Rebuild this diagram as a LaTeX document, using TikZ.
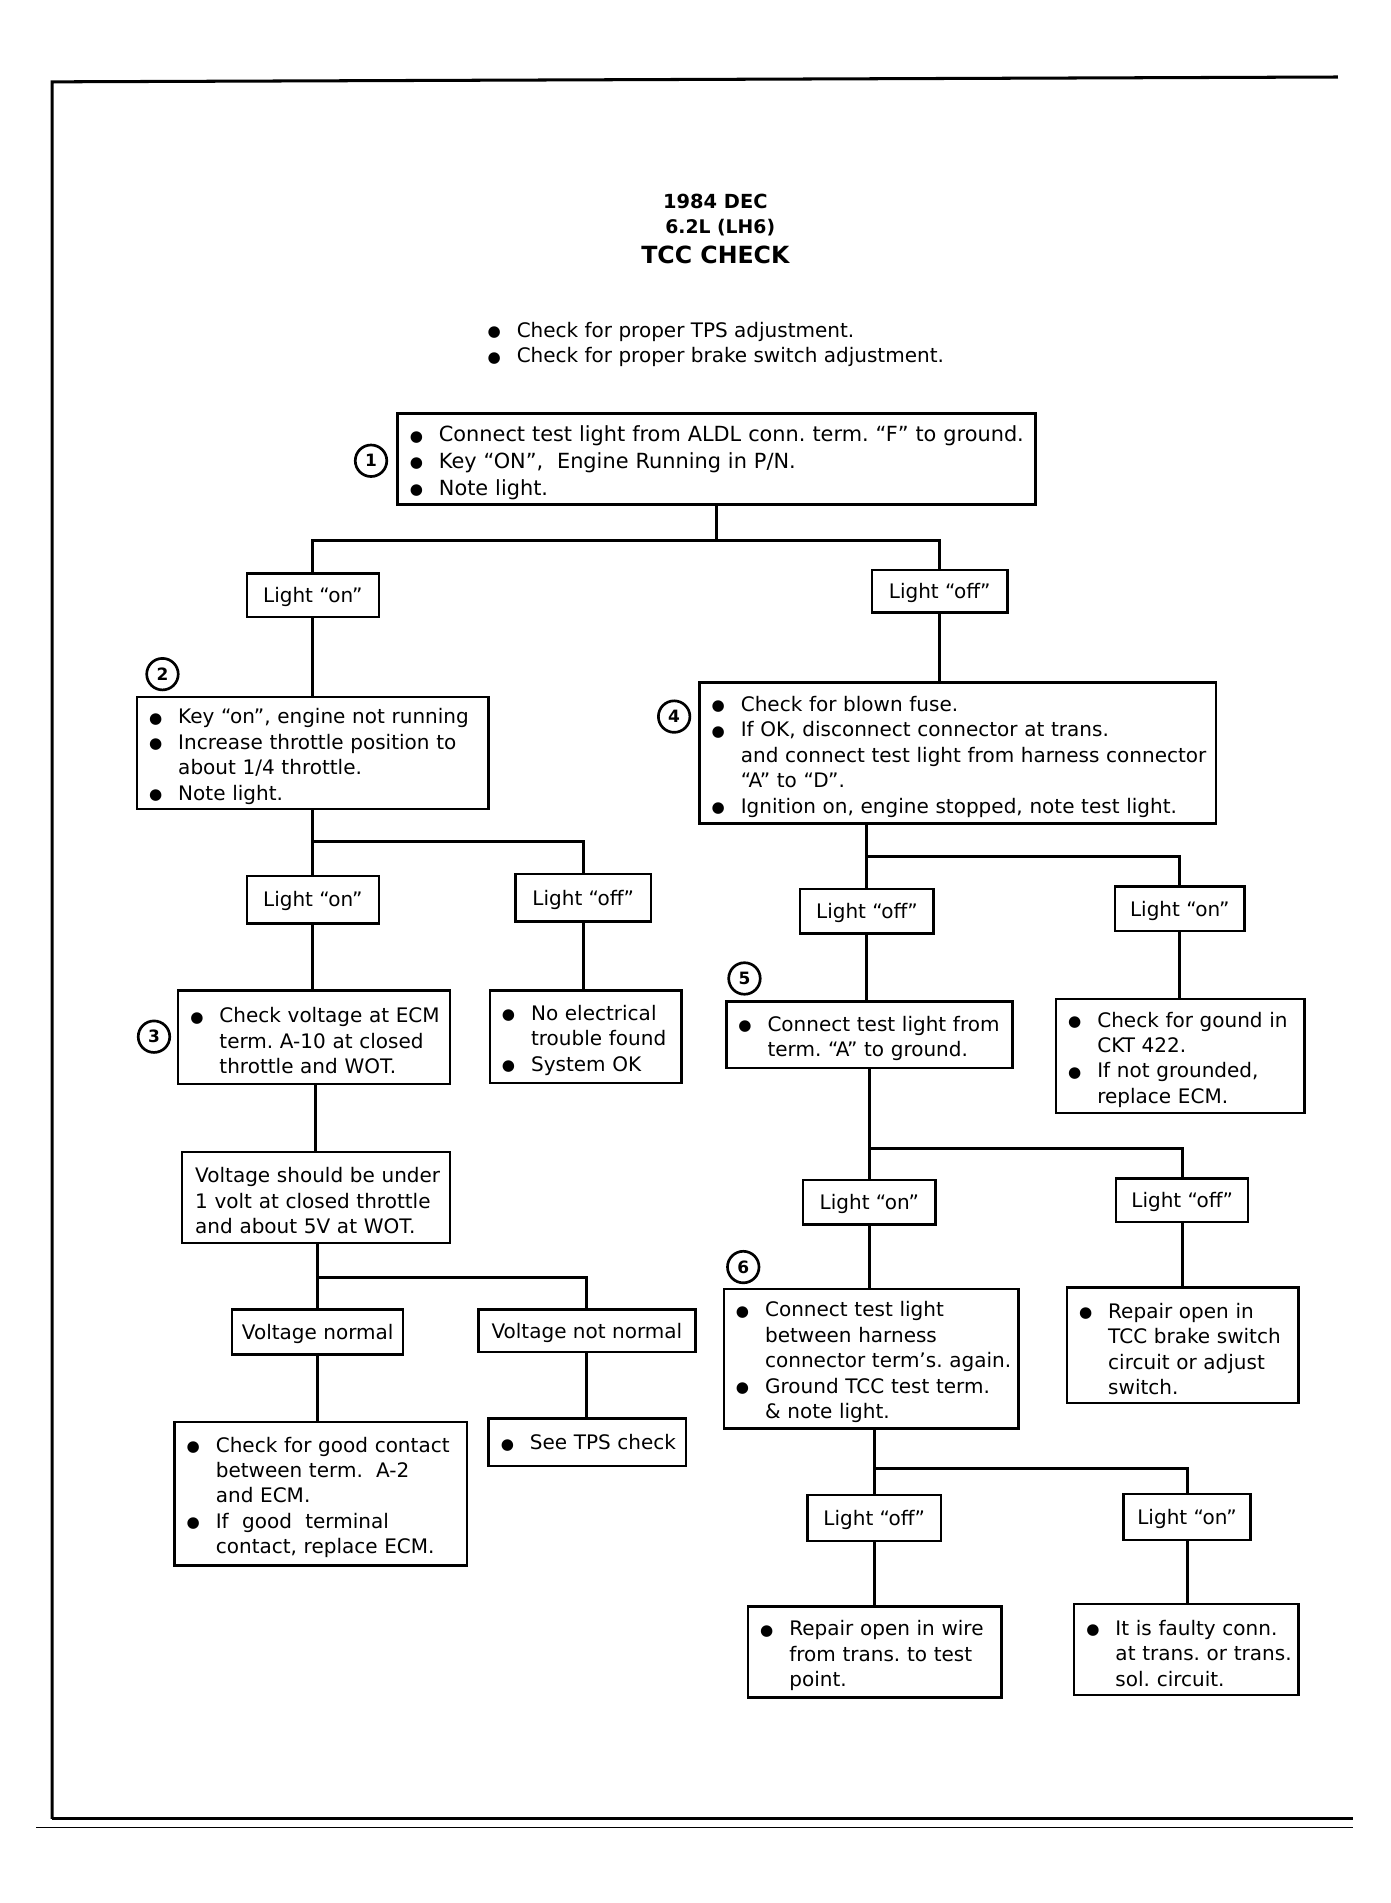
\documentclass[tikz,border=0pt]{standalone}
\usepackage{fontspec}
\setmainfont{DejaVu Sans}
\frenchspacing
\newcommand{\fsz}{\fontsize{16.5}{21}\selectfont}
\newcommand{\fszL}{\fontsize{17.2}{22}\selectfont}
\newcommand{\bulletglyph}{\raisebox{0.5pt}{\fontsize{12.5}{12.5}\selectfont ●}}
\newcommand{\bi}[1]{\makebox[24pt][l]{\bulletglyph}\mbox{#1}}
\newcommand{\ct}[1]{\hspace*{24pt}\mbox{#1}}
\newcommand{\pl}[1]{\mbox{#1}}
\tikzset{
  frameline/.style={line width=2.5pt},
  box/.style={draw, line width=2pt, inner xsep=10pt, inner ysep=0pt, align=left, font=\fsz,
    execute at end node={\par\kern-6pt}},
  lbox/.style={draw, line width=2pt, inner sep=0pt, align=center, font=\fsz,
    text height=15pt, text depth=3pt},
  num/.style={draw, circle, line width=2.2pt, minimum size=26pt, inner sep=0pt, font=\bfseries\fontsize{14}{14}\selectfont},
  conn/.style={line width=2.5pt},
}
\begin{document}
\begin{tikzpicture}[x=1pt,y=-1pt]
\useasboundingbox (0,0) rectangle (1147.2,1569.5);
\fill[white] (0,0) rectangle (1147.2,1569.5);
% frame
\draw[frameline] (43,1500) -- (43,67.5) -- (1103.5,63.5);
\draw[frameline] (43,1500) -- (1116,1500);
\draw[line width=1.2pt] (30,1507) -- (1116,1507);
% titles
\node[font=\bfseries\fontsize{16}{16}\selectfont] (t1) at (590,166) {1984 DEC};
\node[font=\bfseries\fontsize{15.5}{15.5}\selectfont] (t2) at (594,188) {6.2L (LH6)};
\node[font=\bfseries\fontsize{19.5}{19.5}\selectfont] (t3) at (590,210) {TCC CHECK};
\node[anchor=west, inner sep=0pt, align=left, font=\fsz] (pre) at (402,284)
  {\bi{Check for proper TPS adjustment.}\\ \bi{Check for proper brake switch adjustment.}};
% boxes
\node[box, font=\fszL, text width=506pt, minimum height=75pt] (box1) at (591,378.5)
  {\bi{Connect test light from ALDL conn. term. “F” to ground.}\\ \bi{Key “ON”,\ \ Engine Running in P/N.}\\ \bi{Note light.}};
\node[lbox, minimum width=109pt, minimum height=36pt] (L1on) at (258,491) {Light “on”};
\node[lbox, minimum width=112pt, minimum height=35pt] (L1off) at (775,487.5) {Light “off”};
\node[box, text width=270pt, minimum height=92pt] (box2) at (258,621)
  {\bi{Key “on”, engine not running}\\ \bi{Increase throttle position to}\\ \ct{about 1/4 throttle.}\\ \bi{Note light.}};
\node[box, text width=406pt, minimum height=116pt] (box4) at (790,621)
  {\bi{Check for blown fuse.}\\ \bi{If OK, disconnect connector at trans.}\\ \ct{and connect test light from harness connector}\\ \ct{“A” to “D”.}\\ \bi{Ignition on, engine stopped, note test light.}};
\node[lbox, minimum width=109pt, minimum height=39pt] (L2on) at (258,742) {Light “on”};
\node[lbox, minimum width=112pt, minimum height=39pt] (L2off) at (481,740.5) {Light “off”};
\node[box, text width=204pt, minimum height=77pt] (box3) at (259,855.5)
  {\bi{Check voltage at ECM}\\ \ct{term. A-10 at closed}\\ \ct{throttle and WOT.}};
\node[box, text width=138pt, minimum height=76pt] (noelec) at (483,855)
  {\bi{No electrical}\\ \ct{trouble found}\\ \bi{System OK}};
\node[box, inner xsep=11pt, text width=199pt, minimum height=75pt] (boxV) at (260.5,987.5)
  {\pl{Voltage should be under}\\ \pl{1 volt at closed throttle}\\ \pl{and about 5V at WOT.}};
\node[lbox, minimum width=141pt, minimum height=37pt] (Vnorm) at (262,1098.5) {Voltage normal};
\node[lbox, minimum width=179pt, minimum height=35pt] (Vnotnorm) at (484,1097.5) {Voltage not normal};
\node[box, text width=221pt, minimum height=118pt] (good) at (264.5,1232)
  {\bi{Check for good contact}\\ \ct{between term.\ \ A-2}\\ \ct{and ECM.}\\ \bi{If\ \ good\ \ terminal}\\ \ct{contact, replace ECM.}};
\node[box, text width=143pt, minimum height=39pt] (seeTPS) at (484.5,1189.5)
  {\bi{See TPS check}};
\node[lbox, minimum width=110pt, minimum height=37pt] (L4off) at (715,751.5) {Light “off”};
\node[lbox, minimum width=107pt, minimum height=37pt] (L4on) at (973,749.5) {Light “on”};
\node[box, text width=216pt, minimum height=55pt] (box5) at (717,853.5)
  {\bi{Connect test light from}\\ \ct{term. “A” to ground.}};
\node[box, text width=185pt, minimum height=94pt] (gound) at (973.5,871)
  {\bi{Check for gound in}\\ \ct{CKT 422.}\\ \bi{If not grounded,}\\ \ct{replace ECM.}};
\node[lbox, minimum width=109pt, minimum height=37pt] (L5on) at (717,991.5) {Light “on”};
\node[lbox, minimum width=109pt, minimum height=36pt] (L5off) at (975,990) {Light “off”};
\node[box, text width=223pt, minimum height=115pt] (box6) at (718.5,1120.5)
  {\bi{Connect test light}\\ \ct{between harness}\\ \ct{connector term’s. again.}\\ \bi{Ground TCC test term.}\\ \ct{\& note light.}};
\node[box, text width=171pt, minimum height=95pt] (repTCC) at (975.5,1109.5)
  {\bi{Repair open in}\\ \ct{TCC brake switch}\\ \ct{circuit or adjust}\\ \ct{switch.}};
\node[lbox, minimum width=110pt, minimum height=38pt] (L6off) at (721,1252) {Light “off”};
\node[lbox, minimum width=105pt, minimum height=38pt] (L6on) at (979,1251) {Light “on”};
\node[box, text width=189pt, minimum height=75pt] (repwire) at (721.5,1362.5)
  {\bi{Repair open in wire}\\ \ct{from trans. to test}\\ \ct{point.}};
\node[box, text width=165pt, minimum height=75pt] (faulty) at (978.5,1360.5)
  {\bi{It is faulty conn.}\\ \ct{at trans. or trans.}\\ \ct{sol. circuit.}};
% step numbers
\node[num] (n1) at (306,380) {1};
\node[num] (n2) at (134,556) {2};
\node[num] (n3) at (127,855) {3};
\node[num] (n4) at (556,591) {4};
\node[num] (n5) at (614,807) {5};
\node[num] (n6) at (613,1045) {6};
% connectors
\draw[conn] (box1.south) -- ++(0,29) coordinate (j1);
\draw[conn] (L1on.north) |- (j1) -| (L1off.north);
\draw[conn] (L1on.south) -- (L1on.south |- box2.north);
\draw[conn] (L1off.south) -- (L1off.south |- box4.north);
\draw[conn] (box2.south -| L2on.north) -- (L2on.north);
\draw[conn] (box2.south -| L2on.north) -- ++(0,26) -| (L2off.north);
\draw[conn] (L2on.south) -- (L2on.south |- box3.north);
\draw[conn] (L2off.south) -- (L2off.south |- noelec.north);
\draw[conn] (box3.south -| boxV.north) -- (boxV.north);
\draw[conn] (boxV.south -| Vnorm.north) -- (Vnorm.north);
\draw[conn] (boxV.south -| Vnorm.north) -- ++(0,28) -| (Vnotnorm.north);
\draw[conn] (Vnorm.south) -- (Vnorm.south |- good.north);
\draw[conn] (Vnotnorm.south) -- (Vnotnorm.south |- seeTPS.north);
\draw[conn] (box4.south -| L4off.north) -- (L4off.north);
\draw[conn] (box4.south -| L4off.north) -- ++(0,26) -| (L4on.north);
\draw[conn] (L4off.south) -- (L4off.south |- box5.north);
\draw[conn] (L4on.south) -- (L4on.south |- gound.north);
\draw[conn] (box5.south -| L5on.north) -- (L5on.north);
\draw[conn] (box5.south -| L5on.north) -- ++(0,65) -| (L5off.north);
\draw[conn] (L5on.south) -- (L5on.south |- box6.north);
\draw[conn] (L5off.south) -- (L5off.south |- repTCC.north);
\draw[conn] (box6.south -| L6off.north) -- (L6off.north);
\draw[conn] (box6.south -| L6off.north) -- ++(0,32) -| (L6on.north);
\draw[conn] (L6off.south) -- (L6off.south |- repwire.north);
\draw[conn] (L6on.south) -- (L6on.south |- faulty.north);
\end{tikzpicture}
\end{document}
